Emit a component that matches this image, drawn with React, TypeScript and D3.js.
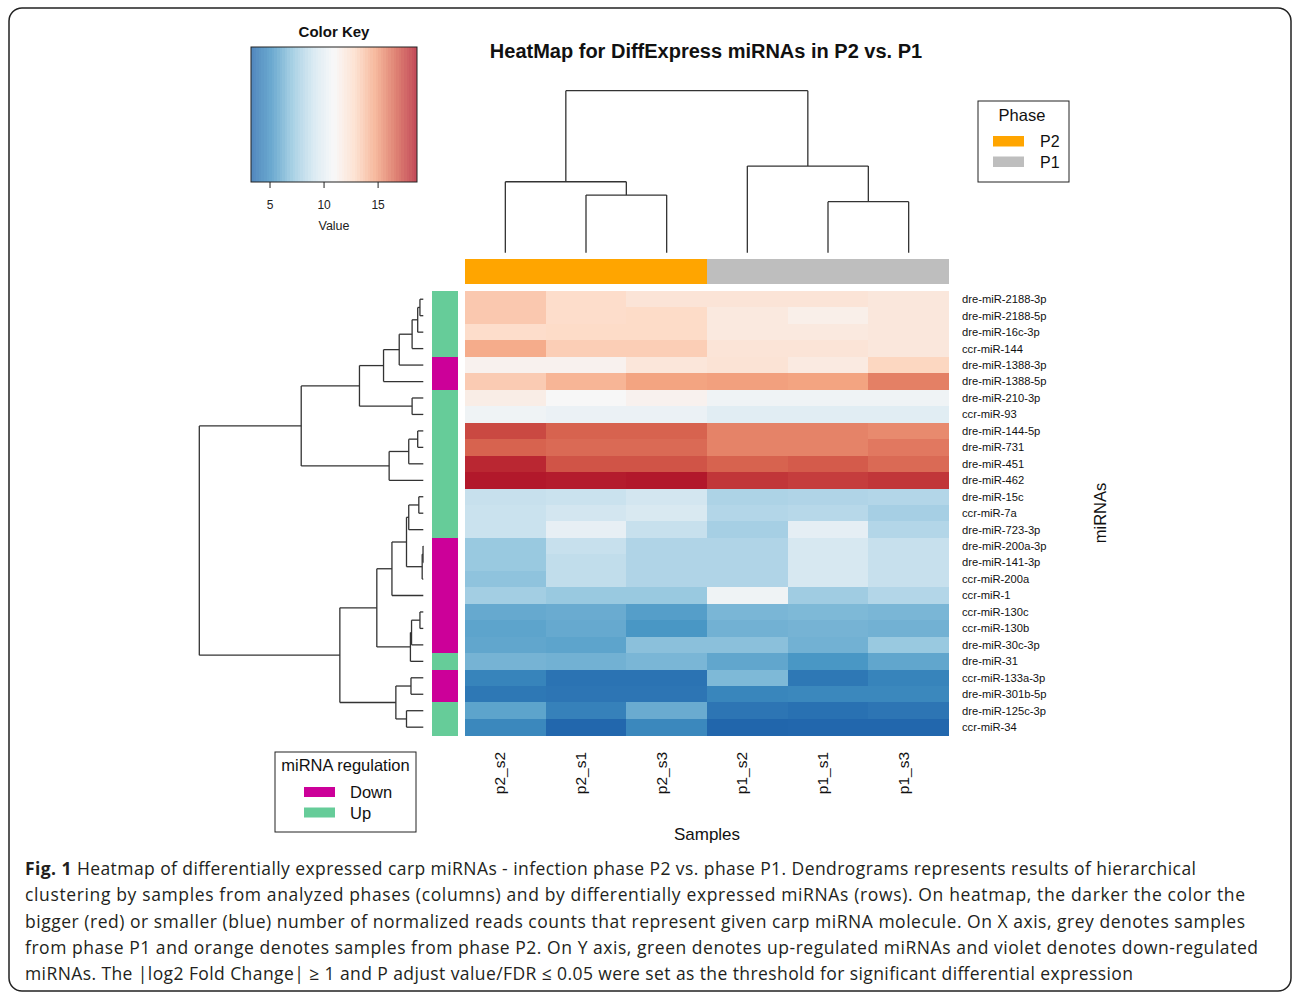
import React from "react";
import * as d3 from "d3";

const samples = ["p2_s2", "p2_s1", "p2_s3", "p1_s2", "p1_s1", "p1_s3"];
const samplePhase = ["P2", "P2", "P2", "P1", "P1", "P1"];
const mirnas = [
  "dre-miR-2188-3p", "dre-miR-2188-5p", "dre-miR-16c-3p", "ccr-miR-144",
  "dre-miR-1388-3p", "dre-miR-1388-5p", "dre-miR-210-3p", "ccr-miR-93",
  "dre-miR-144-5p", "dre-miR-731", "dre-miR-451", "dre-miR-462",
  "dre-miR-15c", "ccr-miR-7a", "dre-miR-723-3p", "dre-miR-200a-3p",
  "dre-miR-141-3p", "ccr-miR-200a", "ccr-miR-1", "ccr-miR-130c",
  "ccr-miR-130b", "dre-miR-30c-3p", "dre-miR-31", "ccr-miR-133a-3p",
  "dre-miR-301b-5p", "dre-miR-125c-3p", "ccr-miR-34",
];
const regulation = [
  "Up", "Up", "Up", "Up", "Down", "Down", "Up", "Up", "Up", "Up", "Up", "Up",
  "Up", "Up", "Up", "Down", "Down", "Down", "Down", "Down", "Down", "Down",
  "Up", "Down", "Down", "Up", "Up",
];
// values per row (miRNA) across samples in column order
const values: number[][] = [
  [13.5, 12.7, 12.2, 12.2, 12.2, 12.0],
  [13.5, 12.7, 12.8, 11.9, 11.5, 12.0],
  [12.7, 12.8, 12.8, 11.9, 11.9, 12.0],
  [14.5, 13.3, 13.3, 12.2, 12.2, 12.0],
  [11.3, 11.3, 12.1, 12.3, 11.8, 13.0],
  [13.4, 14.2, 14.8, 14.9, 14.8, 15.8],
  [11.6, 10.9, 11.3, 10.5, 10.5, 10.5],
  [10.5, 10.3, 10.3, 9.8, 9.8, 9.8],
  [17.3, 16.6, 16.6, 15.7, 15.7, 15.5],
  [16.6, 16.4, 16.4, 15.7, 15.7, 16.0],
  [18.2, 17.0, 17.0, 16.6, 16.8, 16.4],
  [18.6, 18.5, 18.6, 17.8, 17.6, 17.8],
  [8.7, 8.8, 9.1, 7.9, 8.0, 8.1],
  [8.8, 9.1, 9.4, 8.1, 8.2, 7.7],
  [8.8, 10.1, 8.7, 7.7, 10.0, 8.1],
  [7.3, 8.7, 8.0, 8.0, 9.3, 8.7],
  [7.3, 8.5, 8.0, 8.0, 9.3, 8.7],
  [7.0, 8.5, 8.0, 8.0, 9.3, 8.7],
  [7.6, 7.3, 7.3, 10.5, 7.5, 8.1],
  [6.0, 6.1, 5.6, 6.5, 6.6, 6.5],
  [5.8, 6.0, 5.3, 6.3, 6.4, 6.3],
  [5.9, 5.8, 6.9, 6.9, 6.3, 7.3],
  [6.4, 6.3, 6.5, 5.9, 5.3, 5.9],
  [4.5, 3.8, 3.8, 6.6, 4.0, 4.5],
  [4.0, 3.9, 3.9, 4.6, 4.7, 4.7],
  [5.8, 4.4, 6.1, 3.9, 3.7, 3.9],
  [4.7, 3.3, 4.7, 3.2, 3.3, 3.3],
];

type TreeNode = { h: number; c: (TreeNode | number)[] };
const nd = (h: number, a: TreeNode | number, b: TreeNode | number): TreeNode => ({ h, c: [a, b] });

// row dendrogram merge heights
const rowTree = nd(40,
  nd(21.8,
    nd(11.4,
      nd(7.1, nd(4.3, nd(2.0, nd(1.0, nd(0.6, 0, 1), 2), 3), 4), 5),
      nd(2.0, 6, 7)),
    nd(6.1, nd(2.6, nd(1.0, 8, 9), 10), 11)),
  nd(14.9,
    nd(8.3,
      nd(5.6, nd(3.0, nd(2.6, nd(0.8, 12, 13), 14), nd(0.2, nd(0.05, 15, 16), 17)), 18),
      nd(2.3, nd(2.1, nd(0.6, 19, 20), 21), 22)),
    nd(4.9, nd(2.2, 23, 24), nd(3.0, 25, 26))));

// column dendrogram merge heights
const colTree = nd(10, nd(4.38, 0, nd(3.56, 1, 2)), nd(5.35, 3, nd(3.15, 4, 5)));

const keyTicks = [5, 10, 15];
const keyDomain: [number, number] = [3.24, 18.6];
const palette = ["#2166ac", "#4393c3", "#92c5de", "#d1e5f0", "#f7f7f7", "#fddbc7", "#f4a582", "#d6604d", "#b2182b"];
const phaseColors: Record<string, string> = { P2: "#ffa500", P1: "#bebebe" };
const regColors: Record<string, string> = { Down: "#cc0099", Up: "#66cc99" };

const captionLines = [
  " Heatmap of differentially expressed carp miRNAs - infection phase P2 vs. phase P1. Dendrograms represents results of hierarchical",
  "clustering by samples from analyzed phases (columns) and by differentially expressed miRNAs (rows). On heatmap, the darker the color the",
  "bigger (red) or smaller (blue) number of normalized reads counts that represent given carp miRNA molecule. On X axis, grey denotes samples",
  "from phase P1 and orange denotes samples from phase P2. On Y axis, green denotes up-regulated miRNAs and violet denotes down-regulated",
  "miRNAs. The |log2 Fold Change| \u2265 1 and P adjust value/FDR \u2264 0.05 were set as the threshold for significant differential expression",
];
const captionEnds = [1196, 1245, 1245, 1258, 1133];

type Seg = { p1: number; h1: number; p2: number; h2: number };
function dendro(tree: TreeNode, leafPos: (i: number) => number) {
  const segs: Seg[] = [];
  const walk = (n: TreeNode | number): { p: number; h: number } => {
    if (typeof n === "number") return { p: leafPos(n), h: 0 };
    const ch = n.c.map(walk);
    const p = d3.mean(ch, (d) => d.p) as number;
    segs.push({ p1: ch[0].p, h1: n.h, p2: ch[ch.length - 1].p, h2: n.h });
    ch.forEach((c) => segs.push({ p1: c.p, h1: c.h, p2: c.p, h2: n.h }));
    return { p, h: n.h };
  };
  walk(tree);
  return segs;
}

const FONT = "'Liberation Sans', Arial, Helvetica, sans-serif";

export default function App() {
  const hmLeft = 465, hmRight = 949, hmTop = 291, hmBottom = 735.4;
  const x = d3.scaleBand<number>().domain(d3.range(samples.length)).range([hmLeft, hmRight]);
  const y = d3.scaleBand<number>().domain(d3.range(mirnas.length)).range([hmTop, hmBottom]);
  const stops = palette.map((_, i) => keyDomain[0] + (i * (keyDomain[1] - keyDomain[0])) / (palette.length - 1));
  const color = d3.scaleLinear<string>().domain(stops).range(palette).interpolate(d3.interpolateRgb).clamp(true);

  const colH = d3.scaleLinear().domain([0, 10]).range([252.7, 90.7]);
  const rowH = d3.scaleLinear().domain([0, 40]).range([423.3, 199.3]);
  const colSegs = dendro(colTree, (i) => (x(i) as number) + x.bandwidth() / 2);
  const rowSegs = dendro(rowTree, (i) => (y(i) as number) + y.bandwidth() / 2);

  const keyX = d3.scaleLinear().domain(keyDomain).range([251, 417]);
  const nStripes = 64;
  const stripeVals = d3.range(nStripes).map((i) => keyDomain[0] + ((i + 0.5) * (keyDomain[1] - keyDomain[0])) / nStripes);
  const stripeW = (keyX(keyDomain[1]) - keyX(keyDomain[0])) / nStripes;

  return (
    <div style={{ position: "absolute", left: 0, top: 0 }}>
      <svg width={1292} height={996} style={{ display: "block", background: "#fff" }} fontFamily={FONT}>
        <rect x={9} y={8} width={1282} height={983} rx={13} fill="#fff" stroke="#222" strokeWidth={1.5} />

        {/* Color key */}
        <text x={334} y={37} textAnchor="middle" fontSize={15} fontWeight="bold" fill="#111">Color Key</text>
        <g opacity={0.78}>
          {stripeVals.map((v, i) => (
            <rect key={i} x={keyX(keyDomain[0]) + i * stripeW} y={47} width={stripeW + 0.4} height={135} fill={color(v)} shapeRendering="crispEdges" />
          ))}
        </g>
        <rect x={251} y={47} width={166} height={135} fill="none" stroke="#222" strokeWidth={1} />
        {keyTicks.map((t) => (
          <g key={t}>
            <line x1={keyX(t)} x2={keyX(t)} y1={182} y2={188} stroke="#222" strokeWidth={1} />
            <text x={keyX(t)} y={209} textAnchor="middle" fontSize={12} fill="#222">{t}</text>
          </g>
        ))}
        <text x={334} y={230} textAnchor="middle" fontSize={12.5} fill="#222">Value</text>

        {/* Title */}
        <text x={706} y={58} textAnchor="middle" fontSize={20} fontWeight="bold" fill="#111">HeatMap for DiffExpress miRNAs in P2 vs. P1</text>

        {/* Column dendrogram */}
        {colSegs.map((s, i) => (
          <line key={i} x1={s.p1} x2={s.p2} y1={colH(s.h1)} y2={colH(s.h2)} stroke="#333" strokeWidth={1.3} />
        ))}
        {/* Row dendrogram */}
        {rowSegs.map((s, i) => (
          <line key={i} y1={s.p1} y2={s.p2} x1={rowH(s.h1)} x2={rowH(s.h2)} stroke="#333" strokeWidth={1.3} />
        ))}

        {/* Column side colors */}
        {samples.map((s, j) => (
          <rect key={s} x={x(j)} y={259} width={x.bandwidth() + 0.3} height={25} fill={phaseColors[samplePhase[j]]} shapeRendering="crispEdges" />
        ))}
        {/* Row side colors */}
        {mirnas.map((m, i) => (
          <rect key={m} x={432} y={y(i)} width={26} height={y.bandwidth() + 0.3} fill={regColors[regulation[i]]} shapeRendering="crispEdges" />
        ))}

        {/* Heatmap cells */}
        {values.map((row, i) =>
          row.map((v, j) => (
            <rect key={`${i}-${j}`} x={x(j)} y={y(i)} width={x.bandwidth() + 0.3} height={y.bandwidth() + 0.3} fill={color(v)} shapeRendering="crispEdges" />
          ))
        )}

        {/* Row labels */}
        {mirnas.map((m, i) => (
          <text key={m} x={962} y={(y(i) as number) + y.bandwidth() / 2} dy="0.35em" fontSize={11.2} fill="#111">{m}</text>
        ))}
        <text transform="translate(1106,513) rotate(-90)" textAnchor="middle" fontSize={16.5} fill="#111">miRNAs</text>

        {/* Column labels */}
        {samples.map((s, j) => (
          <text key={s} transform={`translate(${(x(j) as number) + x.bandwidth() / 2},752) rotate(-90)`} textAnchor="end" fontSize={15.5} fill="#111">{s}</text>
        ))}
        <text x={707} y={840} textAnchor="middle" fontSize={17} fill="#111">Samples</text>

        {/* Phase legend */}
        <rect x={978} y={101} width={91} height={81} fill="#fff" stroke="#222" strokeWidth={1} />
        <text x={1022} y={121} textAnchor="middle" fontSize={16.5} fill="#111">Phase</text>
        {["P2", "P1"].map((p, i) => (
          <g key={p}>
            <rect x={993} y={136 + i * 20.5} width={31} height={10.5} fill={phaseColors[p]} />
            <text x={1040} y={147 + i * 20.5} fontSize={16} fill="#111">{p}</text>
          </g>
        ))}

        {/* Regulation legend */}
        <rect x={275} y={752} width={141} height={80} fill="#fff" stroke="#222" strokeWidth={1} />
        <text x={345.5} y={771} textAnchor="middle" fontSize={16.5} fill="#111">miRNA regulation</text>
        {["Down", "Up"].map((r, i) => (
          <g key={r}>
            <rect x={304} y={787 + i * 20.5} width={31} height={10} fill={regColors[r]} />
            <text x={350} y={798 + i * 20.5} fontSize={16.5} fill="#111">{r}</text>
          </g>
        ))}

        {/* Caption */}
        {captionLines.map((line, i) => (
          <text key={i} x={25} y={875 + i * 26.3} fontSize={17.5} fill="#231f20" fontFamily="'Open Sans', Lato, sans-serif"
            textLength={captionEnds[i] - 25} lengthAdjust="spacing">
            {i === 0 ? <tspan fontWeight="bold">Fig. 1</tspan> : null}
            {line}
          </text>
        ))}
      </svg>
    </div>
  );
}
